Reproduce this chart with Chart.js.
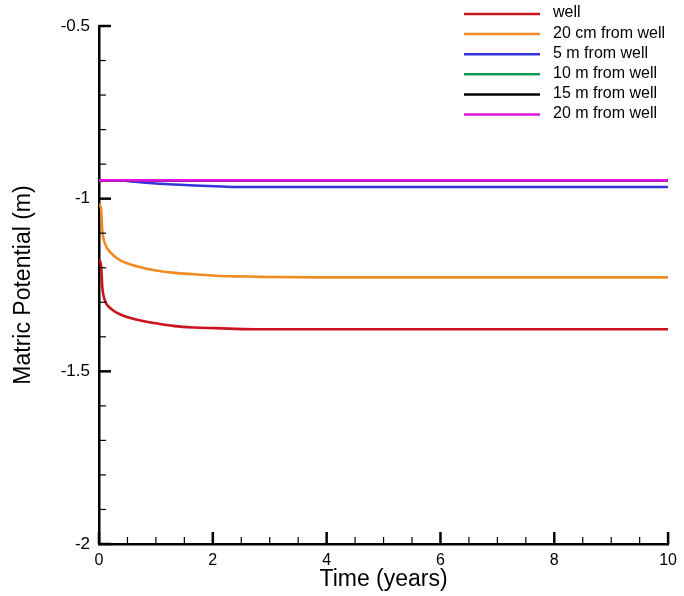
<!DOCTYPE html>
<html>
<head>
<meta charset="utf-8">
<script src="https://cdn.jsdelivr.net/npm/chart.js@4/dist/chart.umd.min.js"></script>
<style>
  html, body { margin: 0; padding: 0; background: #fff; }
  #wrap { width: 684px; height: 596px; position: relative; }
</style>
</head>
<body>
<div id="wrap"><canvas id="c"></canvas></div>
<script>
// Time in years
const times = [0, 0.035, 0.06, 0.1, 0.22, 0.4, 0.63, 1, 1.33, 1.68, 2.04, 2.4, 2.75, 3, 4, 6, 8, 10];

// Matric potential (m) at each observation point
const well = [-1.175, -1.192, -1.26, -1.293, -1.32, -1.337, -1.349, -1.361, -1.369, -1.373, -1.375, -1.377, -1.378, -1.378, -1.378, -1.378, -1.378, -1.378];
const cm20 = [-1.015, -1.028, -1.096, -1.128, -1.159, -1.181, -1.194, -1.208, -1.215, -1.219, -1.223, -1.225, -1.226, -1.227, -1.228, -1.228, -1.228, -1.228];
const m5   = [-0.947, -0.947, -0.947, -0.947, -0.947, -0.947, -0.951, -0.956, -0.959, -0.962, -0.964, -0.966, -0.966, -0.966, -0.966, -0.966, -0.966, -0.966];
const m10  = [-0.947, -0.947, -0.947, -0.947, -0.947, -0.947, -0.947, -0.947, -0.947, -0.947, -0.947, -0.947, -0.947, -0.947, -0.947, -0.947, -0.947, -0.947];
const m15  = [-0.947, -0.947, -0.947, -0.947, -0.947, -0.947, -0.947, -0.947, -0.947, -0.947, -0.947, -0.947, -0.947, -0.947, -0.947, -0.947, -0.947, -0.947];
const m20  = [-0.947, -0.947, -0.947, -0.947, -0.947, -0.947, -0.947, -0.947, -0.947, -0.947, -0.947, -0.947, -0.947, -0.947, -0.947, -0.947, -0.947, -0.947];

const seriesLabels = ['well', '20 cm from well', '5 m from well', '10 m from well', '15 m from well', '20 m from well'];
const seriesValues = [well, cm20, m5, m10, m15, m20];
const seriesColors = ['#c8141c', '#f08a22', '#3434dc', '#0ea050', '#000000', '#e014e0'];
const drawOrder    = [5, 4, 3, 2, 1, 0];

// Axis tick values
const xMajorTicks = [0, 2, 4, 6, 8, 10];
const xMinorTicks = [0.5, 1, 1.5, 2.5, 3, 3.5, 4.5, 5, 5.5, 6.5, 7, 7.5, 8.5, 9, 9.5];
const yMajorTicks = [-0.5, -1, -1.5, -2];
const yMinorTicks = [-0.6, -0.7, -0.8, -0.9, -1.1, -1.2, -1.3, -1.4, -1.6, -1.7, -1.8, -1.9];

const FONT = "'Liberation Sans', Arial, Helvetica, sans-serif";

const datasets = seriesLabels.map((label, k) => ({
  label,
  data: times.map((t, i) => ({ x: t, y: seriesValues[k][i] })),
  borderColor: seriesColors[k],
  backgroundColor: seriesColors[k],
  borderWidth: 2.6,
  pointRadius: 0,
  fill: false,
  cubicInterpolationMode: 'monotone',
  order: drawOrder[k]
}));

// Inward tick marks on the left and bottom axes
const innerTicks = {
  id: 'innerTicks',
  afterDatasetsDraw(chart) {
    const { ctx, chartArea, scales } = chart;
    const xs = scales.x, ys = scales.y;
    ctx.save();
    ctx.strokeStyle = '#000';
    const drawX = (vals, len, w) => {
      ctx.lineWidth = w;
      vals.forEach(v => {
        const px = xs.getPixelForValue(v);
        ctx.beginPath();
        ctx.moveTo(px, chartArea.bottom);
        ctx.lineTo(px, chartArea.bottom - len);
        ctx.stroke();
      });
    };
    const drawY = (vals, len, w) => {
      ctx.lineWidth = w;
      vals.forEach(v => {
        const py = ys.getPixelForValue(v);
        ctx.beginPath();
        ctx.moveTo(chartArea.left, py);
        ctx.lineTo(chartArea.left + len, py);
        ctx.stroke();
      });
    };
    drawX(xMinorTicks, 7, 1.2);
    drawX(xMajorTicks, 12, 2.5);
    drawY(yMinorTicks, 7, 1.2);
    drawY(yMajorTicks, 12, 2.5);
    ctx.restore();
  }
};

// Legend block in the upper right corner
const cornerLegend = {
  id: 'cornerLegend',
  afterDraw(chart, args, opts) {
    const { ctx } = chart;
    ctx.save();
    ctx.font = `${opts.fontSize}px ${FONT}`;
    ctx.textAlign = 'left';
    ctx.textBaseline = 'middle';
    chart.data.datasets.forEach((ds, i) => {
      const y = opts.top + i * opts.rowGap;
      ctx.strokeStyle = ds.borderColor;
      ctx.lineWidth = 2.5;
      ctx.beginPath();
      ctx.moveTo(opts.lineStart, y);
      ctx.lineTo(opts.lineEnd, y);
      ctx.stroke();
      ctx.fillStyle = '#000';
      ctx.fillText(ds.label, opts.textX, y - 1);
    });
    ctx.restore();
  }
};

new Chart(document.getElementById('c'), {
  type: 'line',
  data: { datasets },
  plugins: [innerTicks, cornerLegend],
  options: {
    responsive: true,
    maintainAspectRatio: false,
    animation: false,
    layout: { padding: { top: 26, right: 15, left: 0, bottom: 0 } },
    plugins: {
      legend: { display: false },
      tooltip: { enabled: false },
      cornerLegend: { top: 14, rowGap: 20.1, lineStart: 464, lineEnd: 540, textX: 553, fontSize: 16 }
    },
    scales: {
      x: {
        type: 'linear',
        min: 0, max: 10,
        afterFit(scale) { scale.height = 52; },
        grid: { display: false, drawTicks: false },
        border: { display: true, color: '#000', width: 2.5 },
        ticks: {
          stepSize: 2,
          padding: 7,
          color: '#000',
          maxRotation: 0,
          font: { family: FONT, size: 16 }
        },
        title: {
          display: true,
          text: 'Time (years)',
          color: '#000',
          font: { family: FONT, size: 23 },
          padding: { top: 0, bottom: 3 }
        }
      },
      y: {
        type: 'linear',
        min: -2, max: -0.5,
        afterFit(scale) { scale.width = 99; },
        grid: { display: false, drawTicks: false },
        border: { display: true, color: '#000', width: 2.5 },
        ticks: {
          stepSize: 0.5,
          padding: 9,
          color: '#000',
          font: { family: FONT, size: 17 },
          callback: v => String(v)
        },
        title: {
          display: true,
          text: 'Matric Potential (m)',
          color: '#000',
          font: { family: FONT, size: 23 },
          padding: { top: 10, bottom: 0 }
        }
      }
    }
  }
});
</script>
</body>
</html>
